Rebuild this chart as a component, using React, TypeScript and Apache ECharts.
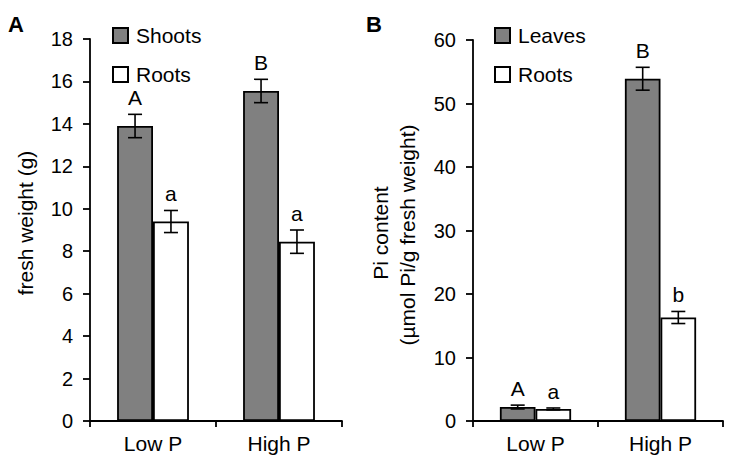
import React, { useEffect, useRef } from "react";
import * as echarts from "echarts";

const categories = ["Low P", "High P"];

// Panel A: fresh weight (g)
const shootsWeight = [13.9, 15.55];
const shootsWeightErr = [0.55, 0.55];
const shootsLetters = ["A", "B"];
const rootsWeight = [9.4, 8.45];
const rootsWeightErr = [0.52, 0.55];
const rootsWeightLetters = ["a", "a"];

// Panel B: Pi content (µmol Pi/g fresh weight)
const leavesPi = [2.2, 53.9];
const leavesPiErr = [0.3, 1.8];
const leavesLetters = ["A", "B"];
const rootsPi = [1.9, 16.3];
const rootsPiErr = [0.15, 0.95];
const rootsPiLetters = ["a", "b"];

const weightAxis = { min: 0, max: 18, interval: 2 };
const piAxis = { min: 0, max: 60, interval: 10 };

const FONT = '"Liberation Sans", Arial, Helvetica, sans-serif';
const GRAY = "#808080";
const CAT_GAP = 0.43;

function errorSeries(
  name: string,
  values: number[],
  errs: number[],
  letters: string[],
  side: number,
  axisIndex: number
) {
  return {
    type: "custom",
    name,
    xAxisIndex: axisIndex,
    yAxisIndex: axisIndex,
    z: 5,
    silent: true,
    data: values.map((v, i) => [i, v, errs[i]]),
    renderItem: (params: any, api: any) => {
      const cat = api.value(0);
      const v = api.value(1);
      const e = api.value(2);
      const band = api.size([1, 0])[0];
      const barW = (band * (1 - CAT_GAP)) / 2;
      const top = api.coord([cat, v + e]);
      const bot = api.coord([cat, v - e]);
      const x = top[0] + (side * barW) / 2;
      const cap = 7;
      const ls = { stroke: "#000", lineWidth: 1.6 };
      return {
        type: "group",
        children: [
          { type: "line", shape: { x1: x, y1: top[1], x2: x, y2: bot[1] }, style: ls },
          { type: "line", shape: { x1: x - cap, y1: top[1], x2: x + cap, y2: top[1] }, style: ls },
          { type: "line", shape: { x1: x - cap, y1: bot[1], x2: x + cap, y2: bot[1] }, style: ls },
          {
            type: "text",
            x: x,
            y: top[1] - 6,
            style: {
              text: letters[params.dataIndex],
              fontSize: 21,
              fontFamily: FONT,
              fill: "#000",
              align: "center",
              verticalAlign: "bottom",
            },
          },
        ],
      };
    },
  };
}

function barSeries(name: string, values: number[], color: string, axisIndex: number) {
  return {
    type: "bar",
    name,
    xAxisIndex: axisIndex,
    yAxisIndex: axisIndex,
    data: values,
    barGap: "0%",
    barCategoryGap: "43%",
    itemStyle: { color, borderColor: "#000", borderWidth: 1.8 },
    z: 2,
  };
}

function xAxis(gridIndex: number) {
  return {
    type: "category",
    gridIndex,
    data: categories,
    axisLine: { show: true, lineStyle: { color: "#000", width: 1.8 } },
    axisTick: { show: true, length: 6, lineStyle: { color: "#000", width: 1.8 } },
    axisLabel: { fontSize: 21, color: "#000", fontFamily: FONT, margin: 12 },
  };
}

function yAxis(gridIndex: number, cfg: { min: number; max: number; interval: number }) {
  return {
    type: "value",
    gridIndex,
    min: cfg.min,
    max: cfg.max,
    interval: cfg.interval,
    axisLine: { show: true, lineStyle: { color: "#000", width: 1.8 } },
    axisTick: { show: true, length: 7, lineStyle: { color: "#000", width: 1.8 } },
    axisLabel: { fontSize: 20, color: "#000", fontFamily: FONT, margin: 17 },
    splitLine: { show: false },
  };
}

function legend(left: number, names: string[]) {
  return {
    left,
    top: 20,
    orient: "vertical",
    data: names,
    icon: "rect",
    itemWidth: 15,
    itemHeight: 15,
    itemGap: 18,
    selectedMode: false,
    textStyle: {
      fontSize: 21,
      lineHeight: 20,
      color: "#000",
      fontFamily: FONT,
      padding: [0, 0, 0, 3],
    },
  };
}

export default function App() {
  const ref = useRef<HTMLDivElement>(null);
  useEffect(() => {
    if (!ref.current) return;
    const chart = echarts.init(ref.current, undefined, { renderer: "svg" });
    chart.setOption({
      animation: false,
      backgroundColor: "#fff",
      textStyle: { fontFamily: FONT },
      grid: [
        { left: 90, top: 39, width: 252, height: 382 },
        { left: 473, top: 40, width: 250, height: 381 },
      ],
      xAxis: [xAxis(0), xAxis(1)],
      yAxis: [yAxis(0, weightAxis), yAxis(1, piAxis)],
      legend: [legend(107, ["Shoots", "Roots"]), legend(489, ["Leaves", "Roots"])],
      series: [
        barSeries("Shoots", shootsWeight, GRAY, 0),
        barSeries("Roots", rootsWeight, "#fff", 0),
        errorSeries("shootsErr", shootsWeight, shootsWeightErr, shootsLetters, -1, 0),
        errorSeries("rootsErr", rootsWeight, rootsWeightErr, rootsWeightLetters, 1, 0),
        barSeries("Leaves", leavesPi, GRAY, 1),
        barSeries("Roots", rootsPi, "#fff", 1),
        errorSeries("leavesErr", leavesPi, leavesPiErr, leavesLetters, -1, 1),
        errorSeries("rootsPiErr", rootsPi, rootsPiErr, rootsPiLetters, 1, 1),
      ],
      graphic: [
        {
          type: "text",
          left: 8,
          top: 13,
          style: { text: "A", fontSize: 22, fontWeight: "bold", fontFamily: FONT, fill: "#000" },
        },
        {
          type: "text",
          left: 366,
          top: 13,
          style: { text: "B", fontSize: 22, fontWeight: "bold", fontFamily: FONT, fill: "#000" },
        },
        {
          type: "text",
          x: 25,
          y: 223,
          rotation: Math.PI / 2,
          style: {
            text: "fresh weight (g)",
            fontSize: 21,
            fontFamily: FONT,
            fill: "#000",
            align: "center",
            verticalAlign: "middle",
          },
        },
        {
          type: "text",
          x: 380,
          y: 233,
          rotation: Math.PI / 2,
          style: {
            text: "Pi content",
            fontSize: 21,
            fontFamily: FONT,
            fill: "#000",
            align: "center",
            verticalAlign: "middle",
          },
        },
        {
          type: "text",
          x: 407,
          y: 235,
          rotation: Math.PI / 2,
          style: {
            text: "(µmol Pi/g fresh weight)",
            fontSize: 21,
            fontFamily: FONT,
            fill: "#000",
            align: "center",
            verticalAlign: "middle",
          },
        },
      ],
    });
    return () => chart.dispose();
  }, []);
  return (
    <div
      ref={ref}
      style={{ position: "fixed", left: 0, top: 0, width: 730, height: 468, background: "#fff" }}
    />
  );
}
